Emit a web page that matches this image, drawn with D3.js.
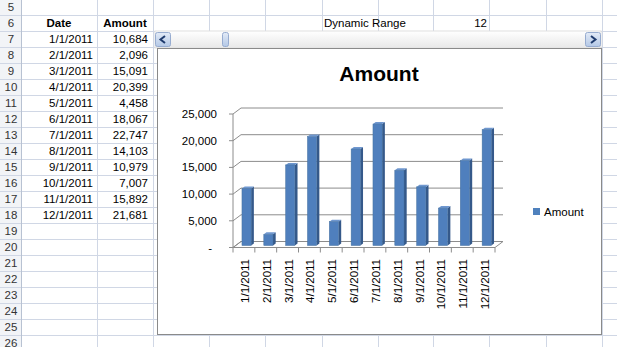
<!DOCTYPE html>
<html>
<head>
<meta charset="utf-8">
<script src="https://cdn.jsdelivr.net/npm/d3@7"></script>
<style>
  body { margin: 0; background: #fff; }
  text { font-family: "Liberation Sans", Arial, sans-serif; }
</style>
</head>
<body>
<script>
// sheet data
var dates = ["1/1/2011","2/1/2011","3/1/2011","4/1/2011","5/1/2011","6/1/2011",
             "7/1/2011","8/1/2011","9/1/2011","10/1/2011","11/1/2011","12/1/2011"]
var amounts = [10684, 2096, 15091, 20399, 4458, 18067, 22747, 14103, 10979, 7007, 15892, 21681]
var yTicks = [0, 5000, 10000, 15000, 20000, 25000]
var rowNums = d3.range(5, 27)
var colEdges = [21, 97, 153, 209, 265, 322, 378, 433, 489, 546, 602]
var rangeLabel = "Dynamic Range"
var rangeValue = 12

var width = 617, height = 347
var rowH = 16, rowTop = -1
var fmt = d3.format(",")

var svg = d3.select("body").append("svg").attr("width", width).attr("height", height)

// ---- spreadsheet grid
var sheet = svg.append("g").attr("id", "sheet")
sheet.append("rect").attr("x", 0).attr("y", 0).attr("width", 21).attr("height", height).attr("fill", "#f2f4f7")
rowNums.forEach(function(r, i) {
  var y0 = rowTop + i * rowH
  sheet.append("line").attr("x1", 0).attr("x2", width).attr("y1", y0 + rowH + 0.5).attr("y2", y0 + rowH + 0.5)
    .attr("stroke", "#d0d7e5")
  sheet.append("text").attr("x", 11).attr("y", y0 + rowH / 2).attr("dy", "0.35em")
    .attr("text-anchor", "middle").attr("font-size", 11.5).attr("fill", "#333").text(r)
})
colEdges.forEach(function(x) {
  sheet.append("line").attr("x1", x + 0.5).attr("x2", x + 0.5).attr("y1", 0).attr("y2", height)
    .attr("stroke", x == 21 ? "#b8c2d2" : "#d0d7e5")
})
function rowY(r) { return rowTop + (r - 5) * rowH + rowH / 2 }
sheet.append("text").attr("x", 59).attr("y", rowY(6)).attr("dy", "0.35em").attr("text-anchor", "middle")
  .attr("font-size", 11.5).attr("font-weight", "bold").text("Date")
sheet.append("text").attr("x", 125).attr("y", rowY(6)).attr("dy", "0.35em").attr("text-anchor", "middle")
  .attr("font-size", 11.5).attr("font-weight", "bold").text("Amount")
dates.forEach(function(d, i) {
  sheet.append("text").attr("x", 93).attr("y", rowY(7 + i)).attr("dy", "0.35em").attr("text-anchor", "end")
    .attr("font-size", 11.5).text(d)
  sheet.append("text").attr("x", 148).attr("y", rowY(7 + i)).attr("dy", "0.35em").attr("text-anchor", "end")
    .attr("font-size", 11.5).text(fmt(amounts[i]))
})
sheet.append("text").attr("x", 324).attr("y", rowY(6)).attr("dy", "0.35em").attr("font-size", 11.5).text(rangeLabel)
sheet.append("text").attr("x", 487).attr("y", rowY(6)).attr("dy", "0.35em").attr("text-anchor", "end")
  .attr("font-size", 11.5).text(rangeValue)

// ---- scrollbar control
var defs = svg.append("defs")
var g1 = defs.append("linearGradient").attr("id", "sbBg").attr("x1", 0).attr("x2", 0).attr("y1", 0).attr("y2", 1)
g1.append("stop").attr("offset", "0%").attr("stop-color", "#ffffff")
g1.append("stop").attr("offset", "100%").attr("stop-color", "#e8e8e8")
var g2 = defs.append("linearGradient").attr("id", "sbBtn").attr("x1", 0).attr("x2", 0).attr("y1", 0).attr("y2", 1)
g2.append("stop").attr("offset", "0%").attr("stop-color", "#e3ebf7")
g2.append("stop").attr("offset", "100%").attr("stop-color", "#b4c8e6")

var sb = svg.append("g").attr("id", "scrollbar")
sb.append("rect").attr("x", 155).attr("y", 31).attr("width", 446).attr("height", 17).attr("fill", "url(#sbBg)")
  .attr("stroke", "#e0e0e0")
sb.append("rect").attr("x", 155.5).attr("y", 32.5).attr("width", 15).attr("height", 14).attr("rx", 2)
  .attr("fill", "url(#sbBtn)").attr("stroke", "#97acd0")
sb.append("path").attr("d", "M165,36 L160.5,39.5 L165,43").attr("fill", "none").attr("stroke", "#1f3b6e").attr("stroke-width", 2)
sb.append("rect").attr("x", 222.5).attr("y", 32.5).attr("width", 6).attr("height", 14).attr("rx", 2)
  .attr("fill", "url(#sbBtn)").attr("stroke", "#97acd0")
sb.append("rect").attr("x", 585.5).attr("y", 32.5).attr("width", 15).attr("height", 14).attr("rx", 2)
  .attr("fill", "url(#sbBtn)").attr("stroke", "#97acd0")
sb.append("path").attr("d", "M591,36 L595.5,39.5 L591,43").attr("fill", "none").attr("stroke", "#1f3b6e").attr("stroke-width", 2)

// ---- chart object
var chart = svg.append("g").attr("id", "chart")
chart.append("rect").attr("x", 157.5).attr("y", 48.5).attr("width", 444).attr("height", 286)
  .attr("fill", "#fff").attr("stroke", "#8a8a8a")
chart.append("text").attr("x", 379).attr("y", 81).attr("text-anchor", "middle")
  .attr("font-size", 21).attr("font-weight", "bold").text("Amount")

var DX = 8, DY = -6   // depth offset for the 3d look
var x = d3.scaleBand().domain(dates).range([233, 495])
var y = d3.scaleLinear().domain([0, 25000]).range([247.5, 114])
var gridC = "#8c8c8c"

// walls + gridlines
yTicks.forEach(function(t) {
  var yf = y(t)
  chart.append("line").attr("x1", 233).attr("y1", yf).attr("x2", 233 + DX).attr("y2", yf + DY)
    .attr("stroke", gridC)
  if (t > 0)
    chart.append("line").attr("x1", 233 + DX).attr("y1", yf + DY).attr("x2", 495 + DX).attr("y2", yf + DY)
      .attr("stroke", gridC)
  chart.append("line").attr("x1", 229).attr("y1", yf).attr("x2", 233).attr("y2", yf).attr("stroke", gridC)
  chart.append("text").attr("x", t == 0 ? 212 : 217).attr("y", yf).attr("dy", "0.35em")
    .attr("text-anchor", "end").attr("font-size", 11.5).text(t == 0 ? "-" : fmt(t))
})
chart.append("line").attr("x1", 233).attr("y1", y(25000)).attr("x2", 233).attr("y2", y(0)).attr("stroke", gridC)
// floor
chart.append("path")
  .attr("d", "M233," + y(0) + " L495," + y(0) + " L" + (495 + DX) + "," + (y(0) + DY) + " L" + (233 + DX) + "," + (y(0) + DY) + " Z")
  .attr("fill", "none").attr("stroke", gridC)
dates.forEach(function(d) {
  chart.append("line").attr("x1", x(d)).attr("x2", x(d)).attr("y1", y(0)).attr("y2", y(0) + 5).attr("stroke", gridC)
})
chart.append("line").attr("x1", 495).attr("x2", 495).attr("y1", y(0)).attr("y2", y(0) + 5).attr("stroke", gridC)

// bars
var bw = x.bandwidth() * 0.42
var d0 = 0.33, d1 = 0.67
var bars = chart.append("g").attr("id", "bars")
amounts.forEach(function(v, i) {
  var cx = x(dates[i]) + x.bandwidth() / 2
  var fx = cx - bw / 2 + d0 * DX, fy0 = y(0) + d0 * DY, fy1 = y(v) + d0 * DY
  var ox = (d1 - d0) * DX, oy = (d1 - d0) * DY
  bars.append("path")
    .attr("d", "M" + (fx + bw) + "," + fy0 + " L" + (fx + bw + ox) + "," + (fy0 + oy) + " L" + (fx + bw + ox) + "," + (fy1 + oy) + " L" + (fx + bw) + "," + fy1 + " Z")
    .attr("fill", "#35598a")
  bars.append("path")
    .attr("d", "M" + fx + "," + fy1 + " L" + (fx + ox) + "," + (fy1 + oy) + " L" + (fx + bw + ox) + "," + (fy1 + oy) + " L" + (fx + bw) + "," + fy1 + " Z")
    .attr("fill", "#6f97cf")
  bars.append("rect").attr("x", fx).attr("y", fy1).attr("width", bw).attr("height", fy0 - fy1)
    .attr("fill", "#4f7fbd").attr("stroke", "#44719f").attr("stroke-width", 0.5)
})

// category labels
dates.forEach(function(d) {
  var cx = x(d) + x.bandwidth() / 2 + 1
  chart.append("text").attr("transform", "translate(" + cx + ",259) rotate(-90)")
    .attr("dy", "0.35em").attr("text-anchor", "end").attr("font-size", 11.5).text(d)
})

// legend
chart.append("rect").attr("x", 533).attr("y", 208).attr("width", 7).attr("height", 7).attr("fill", "#4f81bd")
chart.append("text").attr("x", 544).attr("y", 211.5).attr("dy", "0.35em").attr("font-size", 11.5).text("Amount")
</script>
</body>
</html>
